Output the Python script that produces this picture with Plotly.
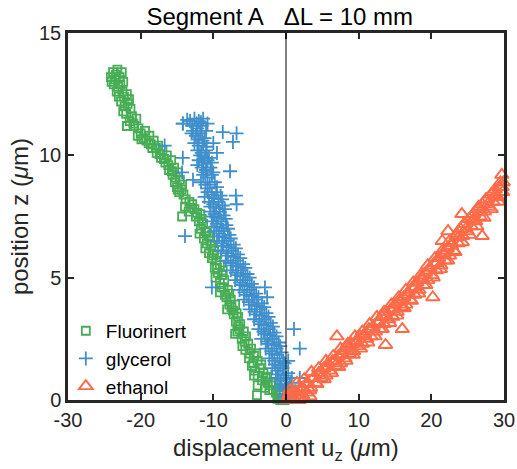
import plotly.graph_objects as go

# (u_z, z) pairs
fluorinert = [(-23.8,13.4),(-23.2,13.5),(-22.6,13.4),(-24.1,13.2),(-23.5,13.1),(-22.9,13.2),(-23.7,12.9),(-22.4,13.0),
    (-23.1,12.8),(-22.5,12.6),(-23.0,12.4),(-21.9,12.5),(-22.7,12.2),(-21.6,12.3),(-22.2,12.0),(-21.4,11.9),(-22.0,11.7),
    (-21.2,11.6),(-21.9,11.2),(-20.6,11.5),(-21.0,11.3),(-20.3,11.1),(-20.0,10.9),(-19.4,11.0),(-19.6,10.7),(-18.8,10.8),
    (-18.9,10.5),(-18.2,10.6),(-18.4,10.3),(-17.6,10.4),(-17.8,10.1),(-17.0,10.2),(-17.2,9.9),(-16.4,10.0),(-16.6,9.7),
    (-15.8,9.8),(-16.1,9.4),(-15.4,9.5),(-15.6,9.2),(-14.9,9.3),(-15.3,8.9),(-14.6,9.0),(-15.0,8.7),(-14.3,8.8),(-14.7,8.5),
    (-14.1,8.4),(-13.8,8.2),(-13.3,8.1),(-12.9,8.0),(-14.3,7.5),(-13.4,7.7),(-12.6,7.8),(-12.4,7.5),(-11.8,7.6),(-12.0,7.3),
    (-11.4,7.2),(-11.7,7.0),(-11.1,6.9),(-11.3,6.6),(-10.6,6.7),(-10.9,6.4),(-10.3,6.3),(-10.6,6.0),(-9.9,6.1),(-10.2,5.8),
    (-9.6,5.7),(-9.8,5.4),(-9.1,5.5),(-9.4,5.2),(-8.8,5.1),(-9.1,4.8),(-8.5,4.9),(-9.1,4.4),(-8.6,4.6),(-8.0,4.5),(-8.2,4.2),
    (-7.6,4.1),(-8.1,3.7),(-7.5,3.8),(-7.0,3.9),(-7.2,3.5),(-6.6,3.4),(-6.9,3.2),(-6.3,3.1),(-7.0,2.7),(-6.4,2.9),(-5.8,2.8),
    (-6.1,2.5),(-5.5,2.6),(-6.0,2.2),(-5.2,2.3),(-4.8,2.1),(-5.0,1.9),(-4.4,1.8),(-4.5,1.5),(-3.9,1.6),(-4.7,1.4),(-3.6,1.3),
    (-3.9,1.0),(-3.1,1.1),(-2.8,0.9),(-3.9,0.6),(-2.5,0.7),(-2.1,0.6),(-4.0,0.2),(-1.8,0.4),(-1.4,0.3),(-1.0,0.2),(-0.6,0.1),
    (-0.2,0.0),(-1.2,0.05),(-21.9,11.2),
    (-23.4,13.3),(-24.0,13.0),(-23.3,12.6),(-22.8,12.9),(-22.3,12.4),(-21.8,12.1),(-22.4,11.8),(-21.5,11.4),(-20.9,11.2),
    (-20.4,10.8),(-19.9,10.65),(-19.2,10.6),(-18.6,10.45),(-17.9,10.3),(-17.4,10.05),(-16.8,9.85),(-16.2,9.6),(-15.7,9.35),
    (-15.2,9.1),(-14.9,8.6),(-14.4,8.6),(-13.9,7.9),(-13.1,7.85),(-12.2,7.65),(-11.6,7.4),(-11.9,6.8),(-10.9,6.85),
    (-11.1,6.2),(-10.4,6.5),(-10.0,5.9),(-9.5,5.95),(-9.5,5.4),(-9.7,5.0),(-8.7,5.3),(-8.9,4.6),(-8.4,4.3),(-7.8,4.35),
    (-7.8,3.9),(-7.3,3.65),(-6.8,3.55),(-6.6,3.0),(-6.7,2.8),(-5.7,2.4),(-5.6,2.05),(-5.1,1.7),(-4.1,1.9),(-4.3,1.2),
    (-3.4,1.45),(-3.3,0.8),(-2.6,0.95),(-2.3,0.4),(-1.7,0.7),(-0.9,0.4),(-0.8,0.0),(-2.9,0.5),(-4.4,1.0)]

glycerol = [(-13.2,11.4),(-12.6,11.5),(-12.0,11.4),(-11.4,11.5),(-10.8,11.3),(-14.2,11.3),(-12.9,11.2),(-12.2,11.1),
    (-11.6,11.2),(-11.0,11.0),(-13.0,10.9),(-12.4,10.8),(-11.8,10.9),(-11.2,10.7),(-12.6,10.5),(-12.0,10.4),(-11.4,10.5),
    (-10.0,10.5),(-12.2,10.2),(-11.6,10.1),(-11.0,10.2),(-9.5,10.1),(-12.0,9.8),(-11.4,9.7),(-10.8,9.8),(-11.6,9.5),
    (-11.0,9.4),(-10.4,9.5),(-11.4,9.2),(-10.8,9.1),(-10.2,9.2),(-12.8,9.0),(-11.1,8.8),(-10.5,8.8),(-9.8,8.9),(-10.8,8.5),
    (-10.2,8.4),(-9.6,8.5),(-10.6,8.1),(-10.0,8.0),(-9.3,8.1),(-8.8,8.2),(-10.4,7.7),(-9.8,7.6),(-9.1,7.7),(-8.4,7.8),
    (-10.2,7.3),(-9.5,7.2),(-8.9,7.3),(-8.3,7.4),(-9.9,6.9),(-9.2,6.8),(-8.6,6.9),(-8.0,7.0),(-9.5,6.5),(-8.8,6.4),(-8.2,6.5),
    (-7.6,6.6),(-8.9,6.1),(-8.2,6.0),(-7.5,6.1),(-6.9,6.2),(-8.3,5.7),(-7.6,5.6),(-6.9,5.7),(-6.3,5.8),(-7.6,5.3),(-6.9,5.2),
    (-6.2,5.3),(-5.6,5.4),(-7.0,4.9),(-6.3,4.8),(-5.6,4.9),(-5.0,5.0),(-6.4,4.5),(-5.7,4.4),(-5.0,4.5),(-4.4,4.6),(-5.8,4.1),
    (-5.1,4.0),(-4.4,4.1),(-3.8,4.2),(-5.0,3.7),(-4.3,3.6),(-3.6,3.7),(-3.0,3.8),(-4.4,3.3),(-3.7,3.2),(-3.0,3.3),(-2.4,3.4),
    (-3.8,2.9),(-3.1,2.8),(-2.4,2.9),(-1.8,3.0),(-3.4,2.5),(-2.6,2.4),(-1.9,2.5),(-1.3,2.6),(-2.8,2.1),(-2.0,2.0),(-1.3,2.1),
    (-0.8,2.2),(-2.3,1.7),(-1.6,1.6),(-0.9,1.7),(-0.4,1.55),(-1.9,1.3),(-1.2,1.2),(-0.5,1.3),(-1.4,0.9),(-0.7,0.8),(0.0,0.9),
    (-0.9,0.5),(-0.2,0.4),(0.4,0.5),(-0.4,0.1),(0.3,0.15),(1.0,0.2),(0.6,-0.05),
    (-8.7,10.95),(-6.8,10.9),(-7.3,10.55),(-7.7,9.35),(-6.9,8.35),(-6.8,8.0),(-14.2,9.9),(-14.3,9.3),(-16.7,10.4),
    (-13.9,6.7),(-10.2,4.6),(-2.9,4.6),(-2.6,4.2),(1.1,2.9),(1.9,2.1),(0.3,1.6),(0.8,0.9),(1.9,0.9),(0.5,0.6),(-14.2,11.3),
    (-12.3,11.3),(-11.7,11.35),(-13.6,11.45),(-12.8,11.0),(-11.5,10.6),(-12.1,10.65),(-10.9,10.35),(-11.8,10.0),(-10.6,9.9),
    (-11.2,9.9),(-12.2,9.6),(-10.2,9.7),(-11.1,9.3),(-10.0,9.3),(-11.7,8.9),(-10.8,8.65),(-9.5,8.7),(-11.2,8.3),(-9.9,8.25),
    (-9.0,8.35),(-10.4,7.9),(-9.6,7.85),(-8.7,7.95),(-10.0,7.5),(-9.3,7.45),(-8.6,7.55),(-9.6,7.1),(-8.9,7.05),(-8.2,7.15),
    (-9.2,6.7),(-8.5,6.65),(-7.8,6.75),(-8.6,6.3),(-7.9,6.25),(-7.2,6.35),(-8.0,5.9),(-7.2,5.85),(-6.6,5.95),(-7.3,5.5),
    (-6.6,5.45),(-5.9,5.55),(-6.7,5.1),(-5.9,5.05),(-5.3,5.15),(-6.0,4.7),(-5.3,4.65),(-4.7,4.75),(-5.4,4.3),(-4.7,4.25),
    (-4.1,4.35),(-4.7,3.9),(-4.0,3.85),(-3.3,3.95),(-4.1,3.5),(-3.3,3.45),(-2.7,3.55),(-3.4,3.1),(-2.7,3.05),(-2.1,3.15),
    (-2.9,2.7),(-2.2,2.65),(-1.6,2.75),(-2.4,2.3),(-1.6,2.25),(-1.0,2.35),(-1.9,1.9),(-1.2,1.85),(-0.6,1.95),(-1.5,1.45),
    (-0.8,1.4),(-0.2,1.5),(-1.0,1.05),(-0.3,1.0),(0.3,1.1),(-0.6,0.65),(0.1,0.6),(0.7,0.7),(-0.1,0.25),(0.6,0.3),(1.3,0.35)]

ethanol = [(0.1,0.0),(0.6,0.1),(1.2,0.0),(1.5,0.3),(2.0,0.1),(2.3,0.5),(2.8,0.3),(3.0,0.7),(3.4,0.5),(3.8,0.9),(4.1,0.7),
    (4.5,1.1),(4.8,0.9),(5.2,1.3),(5.5,1.0),(5.8,1.5),(6.1,1.2),(6.4,1.6),(6.8,1.4),(7.0,2.6),(7.2,1.8),(7.5,1.5),(7.8,2.0),
    (8.1,1.7),(8.4,2.2),(8.7,1.9),(9.0,2.3),(9.3,2.0),(9.6,2.4),(9.9,2.2),(10.2,2.6),(10.5,2.3),(10.8,2.7),(11.1,2.5),
    (11.4,2.9),(11.7,2.6),(12.0,3.0),(12.3,2.8),(12.6,3.2),(12.9,2.9),(13.2,3.4),(13.7,2.25),(13.5,3.1),(13.8,3.6),(14.1,3.3),
    (14.4,3.7),(14.7,3.4),(15.0,3.9),(15.3,3.6),(15.6,4.1),(16.0,2.9),(15.9,3.8),(16.2,4.2),(16.5,3.9),(16.8,4.4),(17.1,4.1),
    (17.4,4.6),(17.7,4.3),(18.0,4.8),(18.3,4.5),(18.6,5.0),(18.9,4.7),(19.2,5.2),(19.5,4.9),(19.8,5.4),(20.2,4.2),(20.1,5.1),
    (20.4,5.6),(20.7,5.3),(21.0,5.8),(21.3,5.5),(21.5,6.5),(21.6,6.0),(21.9,5.7),(22.3,6.9),(22.2,6.2),(22.5,5.9),(22.8,6.4),
    (23.1,6.1),(23.4,6.7),(23.7,6.4),(24.0,7.0),(24.2,7.6),(24.3,6.7),(24.6,7.2),(24.9,6.9),(25.2,7.4),(25.5,7.1),(25.8,7.6),
    (26.1,7.3),(26.4,7.8),(26.7,7.5),(27.0,6.7),(27.0,8.0),(27.3,7.7),(27.6,8.2),(27.9,7.9),(28.2,8.4),(28.5,8.1),(28.8,8.6),
    (29.1,8.3),(29.4,8.7),(29.7,9.2),(29.8,8.5),(29.9,8.9),(0.8,0.3),(1.8,0.0),(2.6,0.05),(3.3,0.15),(0.4,0.2),
    (0.5,0.4),(1.5,0.7),(2.5,0.85),(3.5,1.15),(4.5,1.3),(5.5,1.6),(6.5,1.8),(7.5,2.1),(8.5,2.3),(9.5,2.6),(10.5,2.8),
    (11.5,3.1),(12.5,3.4),(13.5,3.6),(14.5,3.9),(15.5,4.2),(16.5,4.5),(17.5,4.8),(18.5,5.1),(19.5,5.5),(20.5,5.8),(21.5,6.1),
    (22.5,6.5),(23.5,6.8),(24.5,7.2),(25.5,7.5),(26.5,7.9),(27.5,8.2),(28.5,8.5),(29.5,8.9),
    (1.25,0.0),(2.25,0.2),(3.25,0.4),(4.25,0.65),(5.25,0.85),(6.25,1.1),(7.25,1.35),(8.25,1.6),(9.25,1.85),(10.25,2.1),
    (11.25,2.35),(12.25,2.6),(13.25,2.9),(14.25,3.15),(15.25,3.45),(16.25,3.75),(17.25,4.05),(18.25,4.35),(19.25,4.7),
    (20.25,5.0),(21.25,5.35),(22.25,5.7),(23.25,6.05),(24.25,6.45),(25.25,6.75),(26.25,7.1),(27.25,7.45),(28.25,7.8),(29.25,8.1),
    (0.75,0.2),(1.75,0.4),(2.75,0.65),(3.75,0.9),(4.75,1.1),(5.75,1.35),(6.75,1.6),(7.75,1.85),(8.75,2.1),(9.75,2.35),
    (10.75,2.6),(11.75,2.9),(12.75,3.15),(13.75,3.4),(14.75,3.7),(15.75,4.0),(16.75,4.3),(17.75,4.6),(18.75,4.95),(19.75,5.3),
    (20.75,5.6),(21.75,5.95),(22.75,6.3),(23.75,6.65),(24.75,7.0),(25.75,7.35),(26.75,7.7),(27.75,8.0),(28.75,8.35),(29.75,8.7)]

x_ticks = [-30, -20, -10, 0, 10, 20, 30]
y_ticks = [0, 5, 10, 15]

GREEN = "#46AD55"
BLUE = "#3F8FCC"
ORANGE = "#FF6A48"
AX = "#262626"
FONT = "Liberation Sans, Arial, sans-serif"

fig = go.Figure()
fig.add_trace(go.Scatter(x=[p[0] for p in fluorinert], y=[p[1] for p in fluorinert], mode="markers",
    name="Fluorinert", cliponaxis=False,
    marker=dict(symbol="square-open", size=8, color=GREEN, line=dict(width=1.8, color=GREEN))))
fig.add_trace(go.Scatter(x=[p[0] for p in glycerol], y=[p[1] for p in glycerol], mode="markers",
    name="glycerol", cliponaxis=False,
    marker=dict(symbol="cross-thin-open", size=10, color=BLUE, line=dict(width=1.8, color=BLUE))))
fig.add_trace(go.Scatter(x=[p[0] for p in ethanol], y=[p[1] for p in ethanol], mode="markers",
    name="ethanol", cliponaxis=False,
    marker=dict(symbol="triangle-up-open", size=12, color=ORANGE, line=dict(width=1.9, color=ORANGE))))

fig.add_shape(type="line", xref="x", yref="paper", x0=0, x1=0, y0=0, y1=1,
              line=dict(color="black", width=1), layer="above")

axis_common = dict(showgrid=False, zeroline=False, showline=True, linecolor=AX, linewidth=2.5,
                   mirror="ticks", ticks="inside", ticklen=6, tickwidth=2, tickcolor=AX,
                   tickfont=dict(family=FONT, size=20, color=AX), automargin=False)

fig.update_layout(
    width=517, height=469,
    margin=dict(l=68, r=13, t=33, b=69),
    paper_bgcolor="white", plot_bgcolor="white",
    title=dict(text="Segment A\u00a0\u00a0\u00a0ΔL = 10 mm", x=0.541, xanchor="center", xref="container",
               y=0.965, yanchor="middle",
               font=dict(family=FONT, size=24, color="black")),
    xaxis=dict(range=[-30, 30], tickvals=x_ticks, ticktext=[str(v) for v in x_ticks], **axis_common),
    yaxis=dict(range=[0, 15], tickvals=y_ticks, ticktext=[str(v) for v in y_ticks],
               title=dict(text="position z (<i>μ</i>m)", standoff=4,
                          font=dict(family=FONT, size=24, color=AX)), **axis_common),
    legend=dict(x=-0.005, y=0.24, xanchor="left", yanchor="top", bgcolor="rgba(0,0,0,0)",
                font=dict(family=FONT, size=19, color="black"), itemwidth=30, tracegroupgap=0),
    showlegend=True,
    annotations=[dict(text="displacement u<sub>z</sub> (<i>μ</i>m)", xref="paper", yref="paper",
                      x=0.5, y=-0.088, xanchor="center", yanchor="top", showarrow=False,
                      font=dict(family=FONT, size=24, color=AX))],
)

fig.write_html("out.html")
